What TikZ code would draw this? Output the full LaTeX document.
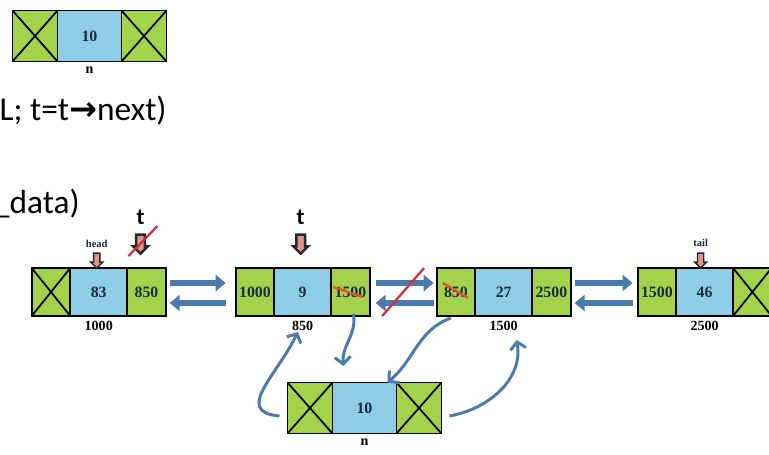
\documentclass[tikz,border=0pt]{standalone}
\usepackage{fontspec}
\setmainfont{Liberation Serif}
\newfontfamily\calibrifont{Carlito}
\newfontfamily\symbfont{DejaVu Sans}
\usetikzlibrary{shapes.arrows, arrows.meta, positioning, calc}
\definecolor{cellgreen}{RGB}{163,211,74}
\definecolor{cellblue}{RGB}{142,205,230}
\definecolor{numtext}{RGB}{28,40,68}
\definecolor{linkblue}{RGB}{76,122,172}
\definecolor{ptrpink}{RGB}{222,150,140}
\definecolor{strikered}{RGB}{214,48,58}
\definecolor{strikeorange}{RGB}{226,84,40}

\begin{document}
\begin{tikzpicture}[
    x=0.02cm, y=0.02cm,
    cell/.style={draw=black, line width=1pt, minimum height=0.96cm,
                 inner sep=0pt, outer sep=0pt, text=numtext,
                 font=\fontsize{9}{10}\selectfont\bfseries},
    dcell/.style={cell, fill=cellblue, minimum width=1.14cm},
    pcell/.style={cell, fill=cellgreen, minimum width=0.77cm},
    xcell/.style={pcell, path picture={
        \draw[line width=1pt] (path picture bounding box.north west) -- (path picture bounding box.south east)
                              (path picture bounding box.south west) -- (path picture bounding box.north east);}},
    bigd/.style={dcell, minimum height=1.02cm, minimum width=1.28cm},
    bigx/.style={xcell, minimum height=1.02cm, minimum width=0.9cm},
    addr/.style={font=\fontsize{8}{9}\selectfont\bfseries, inner sep=1pt},
    code/.style={font=\calibrifont\fontsize{19}{21}\selectfont, inner sep=0pt},
    tlbl/.style={font=\calibrifont\fontsize{13}{14}\selectfont\bfseries, inner sep=0pt},
    plbl/.style={font=\fontsize{6}{7}\selectfont\bfseries, text=numtext, inner sep=0pt},
    tptr/.style={single arrow, shape border rotate=270, draw=black!85, fill=ptrpink,
                 line width=1.4pt, minimum height=0.38cm, inner sep=1.8pt,
                 single arrow head extend=1.7pt, single arrow head indent=0pt},
    sptr/.style={tptr, line width=0.8pt, minimum height=0.3cm, inner sep=1.4pt,
                 single arrow head extend=1.6pt},
    blockarr/.style={-{Triangle[length=0.2cm, width=0.32cm]}, line width=0.13cm,
                     color=linkblue},
    curvearr/.style={-{Straight Barb[length=4pt, width=9pt]}, line width=1.7pt,
                     color=linkblue},
    strike/.style={draw=strikered, line width=1.3pt},
]
\useasboundingbox (0,0) rectangle (769,-454);

% the new node
\node[bigx] (topx) at (35,-36) {};
\node[bigd, right=0pt of topx] (topd) {10};
\node[bigx, right=0pt of topd] (topy) {};
\node[addr, below=2pt of topd] {n};

\node[code, anchor=base east] (line1) at (167,-120) {L; t=t{\symbfont\bfseries →}next)};
\node[code, anchor=base east] (line2) at (80,-213) {\_data)};

% the list
\node[xcell] (n1x) at (51,-292) {};
\node[dcell, right=0pt of n1x] (n1d) {83};
\node[pcell, right=0pt of n1d] (n1p) {850};
\node[pcell, right=1.4cm of n1p] (n2l) {1000};
\node[dcell, right=0pt of n2l] (n2d) {9};
\node[pcell, right=0pt of n2d] (n2p) {1500};
\node[pcell, right=1.34cm of n2p] (n3l) {850};
\node[dcell, right=0pt of n3l] (n3d) {27};
\node[pcell, right=0pt of n3d] (n3p) {2500};
\node[pcell, right=1.34cm of n3p] (n4l) {1500};
\node[dcell, right=0pt of n4l] (n4d) {46};
\node[xcell, right=0pt of n4d] (n4x) {};

\node[addr, below=2pt of n1d] {1000};
\node[addr, below=2pt of n2d] {850};
\node[addr, below=2pt of n3d] {1500};
\node[addr, below=2pt of n4d] {2500};

% head, tail and t
\node[sptr] (headp) at ([shift={(-2,9)}]n1d.north) {};
\node[plbl] at ([shift={(0,15)}]headp.center) {head};
\node[sptr] (tailp) at ([shift={(-4,9)}]n4d.north) {};
\node[plbl] at ([shift={(0,16)}]tailp.center) {tail};
\node[tptr] (t1) at ([shift={(-6,26)}]n1p.north) {};
\node[tlbl] at ([shift={(0,25)}]t1.center) {t};
\node[tptr] (t2) at ([shift={(-2,26)}]n2d.north) {};
\node[tlbl] at ([shift={(0,25)}]t2.center) {t};

% links
\draw[blockarr] ([shift={(4,9)}]n1p.east) -- ([shift={(-10,9)}]n2l.west);
\draw[blockarr] ([shift={(-10,-11)}]n2l.west) -- ([shift={(4,-11)}]n1p.east);
\draw[blockarr] ([shift={(6,9)}]n2p.east) -- ([shift={(-3,9)}]n3l.west);
\draw[blockarr] ([shift={(-3,-11)}]n3l.west) -- ([shift={(6,-11)}]n2p.east);
\draw[blockarr] ([shift={(4,9)}]n3p.east) -- ([shift={(-5,9)}]n4l.west);
\draw[blockarr] ([shift={(-5,-11)}]n4l.west) -- ([shift={(4,-11)}]n3p.east);

% node to insert
\node[bigx] (nbx) at (310,-408) {};
\node[bigd, right=0pt of nbx] (nbd) {10};
\node[bigx, right=0pt of nbd] (nby) {};
\node[addr, below=2pt of nbd] {n};

\draw[curvearr] ([shift={(-8,-8)}]nbx.west) to[out=175, in=245, looseness=1.4] ([shift={(-5,-16)}]n2d.south);
\draw[curvearr] ([shift={(3,2)}]n2p.south) to[out=-80, in=95] ([shift={(-7,-50)}]n2p.south);
\draw[curvearr] ([shift={(-5,-2)}]n3l.south) to[out=200, in=40] ([shift={(23,0)}]nbd.north);
\draw[curvearr] ([shift={(8,-8)}]nby.east) to[out=10, in=-80] ([shift={(13,-24)}]n3d.south);

% crossed out
\coordinate (gap23) at ($(n2p.east)!0.5!(n3l.west)$);
\draw[strike] ([shift={(-12,-14)}]t1.center) -- ([shift={(17,16)}]t1.center);
\draw[strike] ([shift={(-21,-24)}]gap23) -- ([shift={(21,24)}]gap23);
\draw[strike, draw=strikeorange] ([shift={(-17,5)}]n2p.center) -- ([shift={(12,-5)}]n2p.center);
\draw[strike, draw=strikeorange] ([shift={(-13,9)}]n3l.center) -- ([shift={(12,-6)}]n3l.center);

\end{tikzpicture}
\end{document}
